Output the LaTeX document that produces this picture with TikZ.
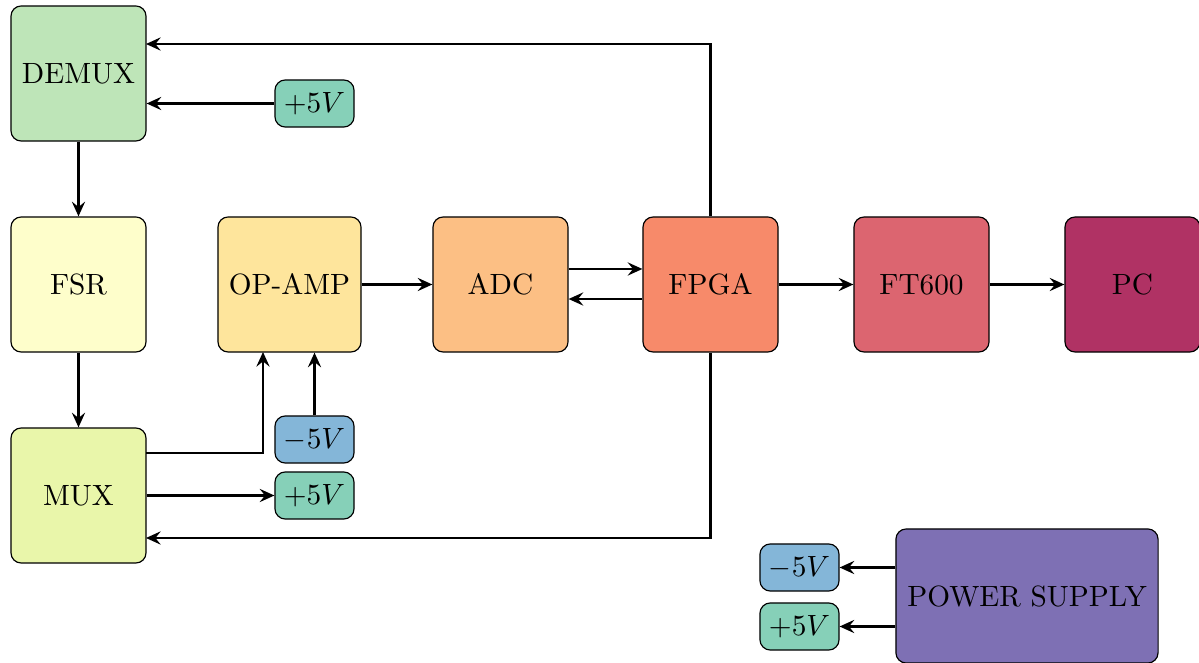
\documentclass[tikz,border=0pt]{standalone}
\usetikzlibrary{arrows.meta}
\definecolor{cdemux}{HTML}{BEE5B8}
\definecolor{cfsr}{HTML}{FEFECB}
\definecolor{cmux}{HTML}{E9F6AA}
\definecolor{copamp}{HTML}{FEE59C}
\definecolor{cadc}{HTML}{FCBF84}
\definecolor{cfpga}{HTML}{F78A6A}
\definecolor{cft}{HTML}{DC6570}
\definecolor{cpc}{HTML}{B03264}
\definecolor{cps}{HTML}{7E70B4}
\definecolor{cneg}{HTML}{84B6D8}
\definecolor{cpos}{HTML}{86D0B8}
\begin{document}
\begin{tikzpicture}[x=0.012cm,y=-0.012cm,
  block/.style={draw,rounded corners=3.5pt,minimum width=1.62cm,minimum height=1.62cm,inner sep=3pt},
  volt/.style={draw,rounded corners=3.5pt,minimum width=0.948cm,minimum height=0.564cm,inner sep=1pt},
  conn/.style={thick,-{Stealth[length=5pt,width=4.5pt,inset=1.8pt]}}]
\useasboundingbox (0,0) rectangle (1199,663);
\node[block,fill=cdemux] (demux) at (78.5,73.5) {DEMUX};
\node[block,fill=cfsr] (fsr) at (78.5,284.5) {FSR};
\node[block,fill=cmux] (mux) at (78.5,495.5) {MUX};
\node[block,fill=copamp,minimum width=1.716cm] (opamp) at (289.5,284.5) {OP-AMP};
\node[block,fill=cadc] (adc) at (500.5,284.5) {ADC};
\node[block,fill=cfpga] (fpga) at (710.5,284.5) {FPGA};
\node[block,fill=cft] (ft) at (921.5,284.5) {FT600};
\node[block,fill=cpc] (pc) at (1132.5,284.5) {PC};
\node[volt,fill=cpos] (p1) at (314.5,103.5) {$+5V$};
\node[volt,fill=cneg] (n1) at (314.5,439.5) {$-5V$};
\node[volt,fill=cpos] (p2) at (314.5,495.5) {$+5V$};
\node[block,fill=cps,minimum width=3.144cm,minimum height=1.608cm] (ps) at (1027,596) {POWER SUPPLY};
\node[volt,fill=cneg] (n3) at (799.5,567.5) {$-5V$};
\node[volt,fill=cpos] (p3) at (799.5,626.5) {$+5V$};
\coordinate (c1) at (710.5,44);
\coordinate (c2) at (146,44);
\coordinate (c3) at (710.5,538);
\coordinate (c4) at (146,538);
\coordinate (c5) at (146,453);
\coordinate (c6) at (263,453);
\coordinate (c7) at (263,352);
\draw[conn] (fpga.north) |- (c2);
\draw[conn] (p1.west) -- (p1.west -| demux.east);
\draw[conn] (demux) -- (fsr);
\draw[conn] (fsr) -- (mux);
\draw[conn] (c5) -- (c6) -- (c7);
\draw[conn] (n1.north) -- (n1.north |- opamp.south);
\draw[conn] (mux.east) -- (p2.west);
\draw[conn] (fpga.south) |- (c4);
\draw[conn] (opamp) -- (adc);
\draw[conn] ([yshift=0.186cm]adc.east) -- ([yshift=0.186cm]fpga.west);
\draw[conn] ([yshift=-0.174cm]fpga.west) -- ([yshift=-0.174cm]adc.east);
\draw[conn] (fpga) -- (ft);
\draw[conn] (ft) -- (pc);
\draw[conn] (n3.east -| ps.west) -- (n3.east);
\draw[conn] (p3.east -| ps.west) -- (p3.east);
\end{tikzpicture}
\end{document}
